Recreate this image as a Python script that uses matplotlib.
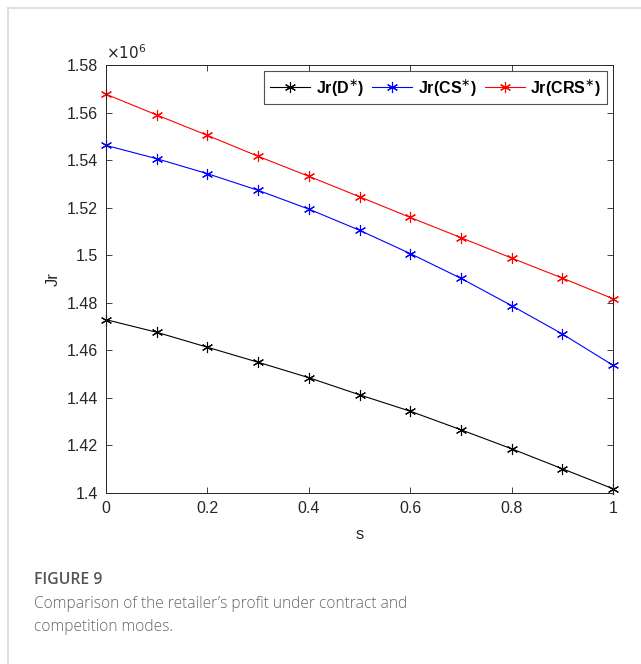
import matplotlib.pyplot as plt
import numpy as np
from matplotlib.lines import Line2D

plt.rcParams['font.family'] = ['Liberation Sans', 'DejaVu Sans']

s = [0, 0.1, 0.2, 0.3, 0.4, 0.5, 0.6, 0.7, 0.8, 0.9, 1.0]
# retailer profit, in units of 1e6
jr_d = [1.4729, 1.4676, 1.4613, 1.4550, 1.4485, 1.4413, 1.4344, 1.4266, 1.4186, 1.4102, 1.4018]
jr_cs = [1.5462, 1.5406, 1.5343, 1.5273, 1.5194, 1.5105, 1.5007, 1.4903, 1.4788, 1.4669, 1.4537]
jr_crs = [1.5677, 1.5590, 1.5504, 1.5416, 1.5332, 1.5246, 1.5159, 1.5074, 1.4988, 1.4904, 1.4817]
labels = [r'Jr(D$^{\ast}$)', r'Jr(CS$^{\ast}$)', r'Jr(CRS$^{\ast}$)']
colors = ['#000000', '#0000ff', '#ff0000']
yticks = [1.4, 1.42, 1.44, 1.46, 1.48, 1.5, 1.52, 1.54, 1.56, 1.58]
xticks = [0, 0.2, 0.4, 0.6, 0.8, 1]

fig = plt.figure(figsize=(6.41, 6.64), dpi=100)
ax = fig.add_axes([106/641, 1-493/664, (613-106)/641, (493-65)/664])

star = (6, 2, 0)
for y, c, lab in zip([jr_d, jr_cs, jr_crs], colors, labels):
    ax.plot(s, y, color=c, lw=0.8, marker=star, ms=8, mew=0.8, label=lab, clip_on=False)

ax.set_xlim(0, 1)
ax.set_ylim(1.4, 1.58)
ax.set_xticks(xticks)
ax.set_xticklabels(['%g' % v for v in xticks])
ax.set_yticks(yticks)
ax.set_yticklabels(['%g' % v for v in yticks])
ax.tick_params(direction='in', top=True, right=True, labelsize=11.5,
               colors='#262626', length=4, width=0.6, pad=6)
for sp in ax.spines.values():
    sp.set_color('#262626')
    sp.set_linewidth(0.7)
ax.set_xlabel('s', fontsize=12, color='#262626', labelpad=8)
ax.set_ylabel('Jr', fontsize=12, color='#262626', labelpad=4)
ax.text(0, 1.0075, r'$\times10^{6}$', transform=ax.transAxes, fontsize=11,
        color='#262626', ha='left', va='bottom')

leg = ax.legend(loc='upper right', ncol=3, frameon=True, fancybox=False,
                edgecolor='#262626', borderpad=0.4, handlelength=2.5,
                columnspacing=0.5, handletextpad=0.35, borderaxespad=0.35,
                prop={'weight': 'bold', 'size': 11.5})
leg.get_frame().set_linewidth(0.8)

# card border
fig.add_artist(Line2D([8/641, 8/641], [0, 1-8/664], color='#d9d9d9', lw=1.2))
fig.add_artist(Line2D([8/641, 1], [1-8/664, 1-8/664], color='#d9d9d9', lw=1.2))

fig.text(34/641, 1-580/664, 'FIGURE 9', fontsize=11.3, color='#555555',
         family=['Open Sans', 'DejaVu Sans'], weight='semibold', va='center')
fig.text(34/641, 1-604/664, 'Comparison of the retailer\u2019s profit under contract and',
         fontsize=11.2, color='#666666', family=['Open Sans', 'DejaVu Sans'],
         weight='light', va='center')
fig.text(34/641, 1-627/664, 'competition modes.', fontsize=11.2, color='#666666',
         family=['Open Sans', 'DejaVu Sans'], weight='light', va='center')

fig.savefig('out.png', dpi=100)
